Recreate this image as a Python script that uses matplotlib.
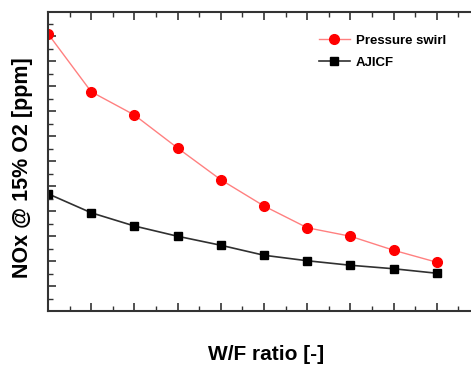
import numpy as np
import matplotlib
matplotlib.use('Agg')
import matplotlib.pyplot as plt
from matplotlib.ticker import MultipleLocator, NullFormatter

# datos (unidades arbitrarias, sin etiquetas en los ejes)
wf = [0, 1, 2, 3, 4, 5, 6, 7, 8, 9]
pressure_swirl = [11.09, 8.77, 7.84, 6.52, 5.25, 4.2, 3.33, 2.99, 2.43, 1.95]
ajicf = [4.69, 3.93, 3.4, 2.99, 2.63, 2.23, 2.01, 1.83, 1.69, 1.51]

plt.rcParams['font.family'] = ['Liberation Sans', 'DejaVu Sans']

fig = plt.figure(figsize=(4.71, 3.66), dpi=100)
ax = fig.add_axes([48/471, 1-311/366, 1-48/471, (311-12)/366])

ax.plot(wf, pressure_swirl, color='#ff8080', lw=1.0, marker='o', ms=7,
        mfc='red', mec='red', label='Pressure swirl')
ax.plot(wf, ajicf, color='#303030', lw=1.2, marker='s', ms=6.3,
        mfc='black', mec='black', label='AJICF')

ax.set_xlim(0, 423/43.2)
ax.set_ylim(0, 11.96)

ax.xaxis.set_major_locator(MultipleLocator(1))
ax.xaxis.set_minor_locator(MultipleLocator(0.5))
ax.yaxis.set_major_locator(MultipleLocator(1))
ax.yaxis.set_minor_locator(MultipleLocator(0.5))
ax.xaxis.set_major_formatter(NullFormatter())
ax.yaxis.set_major_formatter(NullFormatter())
ax.tick_params(which='both', direction='in', top=True, right=False, colors='#333333')
ax.tick_params(which='major', length=6, width=1.2)
ax.tick_params(which='minor', length=3.5, width=1.0)

ax.spines['right'].set_visible(False)
for s in ['left', 'top', 'bottom']:
    ax.spines[s].set_linewidth(1.5)
    ax.spines[s].set_color('#333333')

fig.text(23/471, 1-168/366, 'NOx @ 15% O2 [ppm]', rotation=90, ha='center', va='center',
         fontsize=15.5, fontweight='bold')
fig.text(266/471, 1-354/366, 'W/F ratio [-]', ha='center', va='center',
         fontsize=15, fontweight='bold')

leg = ax.legend(loc='upper left', bbox_to_anchor=(312/471, 1-28/366), bbox_transform=fig.transFigure,
                frameon=False, prop={'weight': 'bold', 'size': 9.5}, handlelength=2.4,
                handletextpad=0.4, labelspacing=0.75, borderpad=0)

plt.savefig('out.png', dpi=100)
